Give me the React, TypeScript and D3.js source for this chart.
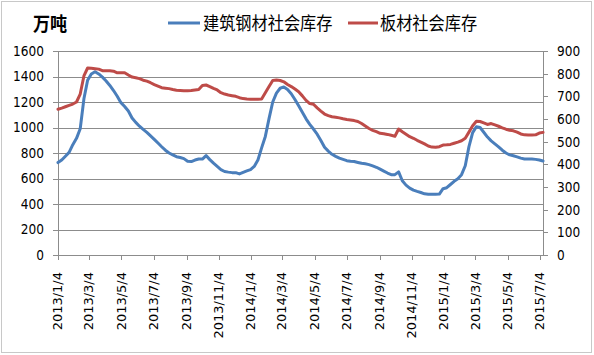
import React from "react";
import * as d3 from "d3";

const startDate = new Date(2013, 0, 4);
const weekCount = 132;

const steelStock = [
  725, 745, 775, 805, 865, 915, 990, 1225, 1370, 1420, 1438, 1420, 1395, 1365, 1330, 1290,
  1245, 1195, 1165, 1130, 1075, 1040, 1010, 985, 962, 935, 907, 878, 849, 822, 800, 785,
  771, 765, 756, 735, 733, 745, 753, 752, 780, 748, 720, 695, 670, 655, 650, 646,
  646, 636, 648, 660, 670, 695, 745, 840, 930, 1070, 1200, 1270, 1308, 1318, 1298, 1265,
  1220, 1170, 1120, 1068, 1025, 988, 948, 898, 845, 815, 790, 774, 760, 750, 740, 735,
  733, 726, 719, 715, 709, 699, 688, 673, 658, 643, 630, 630, 652, 582, 548, 525,
  509, 499, 490, 480, 476, 476, 476, 478, 520, 528, 553, 578, 598, 630, 700, 850,
  960, 1006, 1000, 963, 925, 895, 872, 848, 822, 800, 785, 778, 770, 760, 753, 753,
  753, 750, 745, 737,
];

const plateStock = [
  643, 648, 654, 660, 666, 675, 710, 790, 825, 824, 822, 820, 813, 813, 813, 811,
  804, 804, 804, 794, 785, 782, 778, 771, 767, 760, 752, 745, 738, 736, 734, 730,
  727, 726, 725, 725, 726, 728, 730, 748, 750, 743, 735, 728, 716, 710, 706, 703,
  700, 694, 690, 688, 687, 687, 687, 688, 716, 743, 770, 772, 770, 764, 752, 743,
  732, 720, 702, 682, 668, 665, 649, 635, 622, 615, 610, 608, 605, 601, 598, 596,
  593, 589, 580, 569, 558, 550, 544, 537, 535, 532, 528, 524, 556, 544, 533, 522,
  515, 506, 498, 490, 481, 476, 475, 478, 485, 486, 488, 493, 498, 504, 515, 542,
  570, 590, 589, 583, 576, 580, 574, 568, 561, 555, 550, 548, 542, 534, 530, 529,
  529, 530, 538, 541,
];

const xTickLabels = [
  "2013/1/4", "2013/3/4", "2013/5/4", "2013/7/4", "2013/9/4", "2013/11/4",
  "2014/1/4", "2014/3/4", "2014/5/4", "2014/7/4", "2014/9/4", "2014/11/4",
  "2015/1/4", "2015/3/4", "2015/5/4", "2015/7/4",
];
const leftTicks = [0, 200, 400, 600, 800, 1000, 1200, 1400, 1600];
const rightTicks = [0, 100, 200, 300, 400, 500, 600, 700, 800, 900];

const seriesNames = ["建筑钢材社会库存", "板材社会库存"];
const unitLabel = "万吨";

const BLUE = "#4A7EBB";
const RED = "#BE4B48";

const parseLabel = (s: string) => {
  const [y, m, d] = s.split("/").map(Number);
  return new Date(y, m - 1, d);
};

export default function App() {
  const W = 594, H = 355;
  const L = 58, R = 543, T = 51, B = 255;
  const SX = 0.9;
  const dates = d3.range(weekCount).map((i) => d3.timeDay.offset(startDate, i * 7));
  const x = d3.scaleTime().domain([startDate, dates[dates.length - 1]]).range([L, R]);
  const yL = d3.scaleLinear().domain([0, 1600]).range([B, T]);
  const yR = d3.scaleLinear().domain([0, 900]).range([B, T]);

  const lineL = d3.line<number>().x((_, i) => x(dates[i])).y((v) => yL(v));
  const lineR = d3.line<number>().x((_, i) => x(dates[i])).y((v) => yR(v));

  const numFont = "'DejaVu Sans', Verdana, sans-serif";
  const cjkFont = "'Noto Sans CJK SC', sans-serif";

  return (
    <div style={{ position: "absolute", left: 0, top: 0 }}>
      <svg width={W} height={H} style={{ display: "block" }}>
        <rect x={0} y={0} width={W} height={H} fill="#fff" />
        <rect x={1.5} y={1.5} width={590} height={351} fill="none" stroke="#c8c8c8" />
        {leftTicks.map((t) => (
          <g key={"l" + t}>
            <line x1={L - 5} x2={R} y1={Math.round(yL(t)) + 0.5} y2={Math.round(yL(t)) + 0.5} stroke="#8c8c8c" strokeWidth={1} />
            <text transform={`translate(44,${yL(t)}) scale(${SX},1)`} dy="0.36em" textAnchor="end" fontFamily={numFont} fontSize={13.5} fill="#000">{t}</text>
          </g>
        ))}
        {rightTicks.map((t) => (
          <g key={"r" + t}>
            <line x1={R} x2={R + 5} y1={Math.round(yR(t)) + 0.5} y2={Math.round(yR(t)) + 0.5} stroke="#8c8c8c" />
            <text transform={`translate(557,${yR(t)}) scale(${SX},1)`} dy="0.36em" textAnchor="start" fontFamily={numFont} fontSize={13.5} fill="#000">{t}</text>
          </g>
        ))}
        <line x1={L + 0.5} x2={L + 0.5} y1={T} y2={B} stroke="#8c8c8c" />
        <line x1={R + 0.5} x2={R + 0.5} y1={T} y2={B} stroke="#8c8c8c" />
        {xTickLabels.map((s) => {
          const xp = x(parseLabel(s));
          return (
            <g key={s}>
              <line x1={Math.round(xp) + 0.5} x2={Math.round(xp) + 0.5} y1={B} y2={B + 5} stroke="#8c8c8c" />
              <text transform={`translate(${xp},${B + 17}) scale(${SX},1) rotate(-90)`} dy="0.36em" textAnchor="end" fontFamily={numFont} fontSize={13} fill="#000">{s}</text>
            </g>
          );
        })}
        <path d={lineL(steelStock) || ""} fill="none" stroke={BLUE} strokeWidth={3} strokeLinejoin="round" strokeLinecap="round" />
        <path d={lineR(plateStock) || ""} fill="none" stroke={RED} strokeWidth={3} strokeLinejoin="round" strokeLinecap="round" />
        <text transform={`translate(33,31) scale(${SX},1)`} fontFamily={cjkFont} fontWeight="bold" fontSize={19} fill="#000">{unitLabel}</text>
        <line x1={168} x2={200} y1={23} y2={23} stroke={BLUE} strokeWidth={3} />
        <text transform={`translate(203,30) scale(${SX},1)`} fontFamily={cjkFont} fontSize={18} fill="#000">{seriesNames[0]}</text>
        <line x1={348} x2={378} y1={23} y2={23} stroke={RED} strokeWidth={3} />
        <text transform={`translate(380,30) scale(${SX},1)`} fontFamily={cjkFont} fontSize={18} fill="#000">{seriesNames[1]}</text>
      </svg>
    </div>
  );
}
